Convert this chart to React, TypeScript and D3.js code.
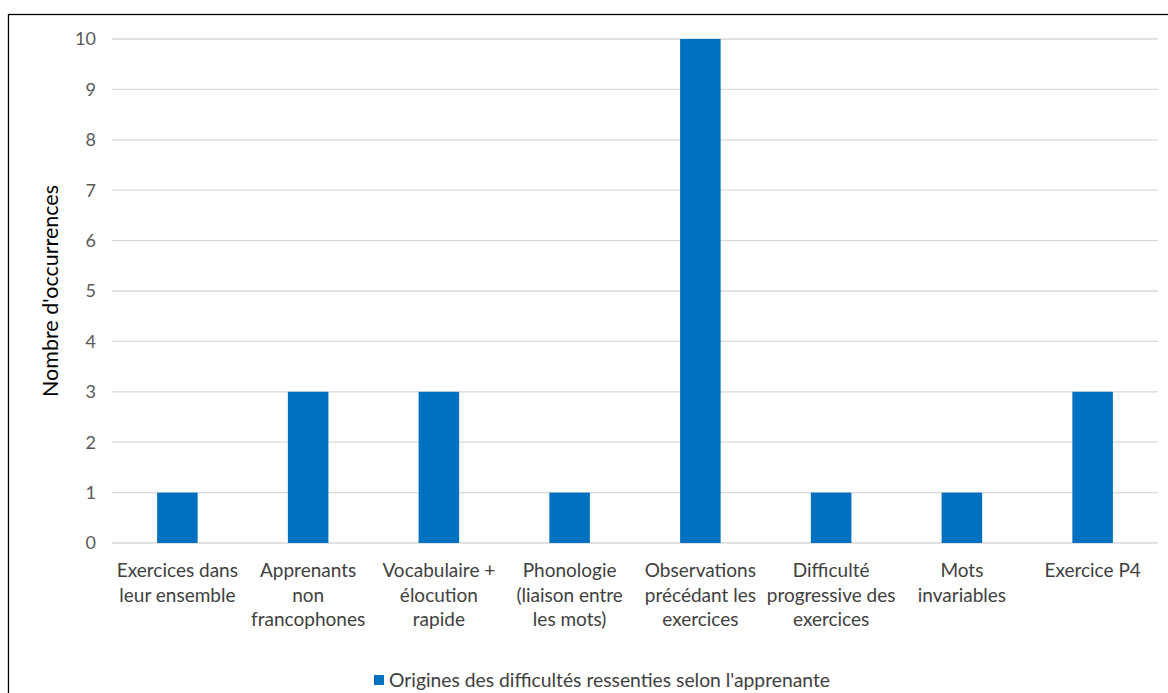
import React, { useEffect, useRef } from 'react';
import * as d3 from 'd3';

const categories: string[] = [
  'Exercices dans\nleur ensemble',
  'Apprenants\nnon\nfrancophones',
  'Vocabulaire +\nélocution\nrapide',
  'Phonologie\n(liaison entre\nles mots)',
  'Observations\nprécédant les\nexercices',
  'Difficulté\nprogressive des\nexercices',
  'Mots\ninvariables',
  'Exercice P4',
];
const occurrences: number[] = [1, 3, 3, 1, 10, 1, 1, 3];
const yTicks: number[] = [0, 1, 2, 3, 4, 5, 6, 7, 8, 9, 10];
const seriesName = "Origines des difficultés ressenties selon l'apprenante";
const yTitle = "Nombre d'occurrences";

const App: React.FC = () => {
  const svgRef = useRef<SVGSVGElement | null>(null);

  useEffect(() => {
    const svg = d3.select(svgRef.current);
    svg.selectAll('*').remove();

    const W = 1168;
    const H = 693;
    const font = 'Lato, Carlito, "Open Sans", sans-serif';
    const plot = { left: 112, right: 1158, top: 39, bottom: 543 };

    svg.attr('width', W).attr('height', H).style('font-family', font);

    // frame
    svg
      .append('rect')
      .attr('x', 8.5)
      .attr('y', 14.5)
      .attr('width', W + 20)
      .attr('height', H + 20)
      .attr('fill', '#fff')
      .attr('stroke', '#000')
      .attr('stroke-width', 1.3);

    const x = d3
      .scaleBand<number>()
      .domain(d3.range(categories.length))
      .range([plot.left, plot.right])
      .paddingInner(0.69)
      .paddingOuter(0.345);

    const y = d3
      .scaleLinear()
      .domain([0, 10])
      .range([plot.bottom, plot.top]);

    // gridlines
    svg
      .append('g')
      .selectAll('line')
      .data(yTicks)
      .join('line')
      .attr('x1', plot.left)
      .attr('x2', plot.right)
      .attr('y1', d => y(d))
      .attr('y2', d => y(d))
      .attr('stroke', '#d9d9d9')
      .attr('stroke-width', 1.3);

    // y labels
    svg
      .append('g')
      .selectAll('text')
      .data(yTicks)
      .join('text')
      .attr('x', 96)
      .attr('y', d => y(d))
      .attr('dy', '0.35em')
      .attr('text-anchor', 'end')
      .attr('fill', '#595959')
      .attr('font-size', 18)
      .text(d => d);

    // bars
    svg
      .append('g')
      .selectAll('rect')
      .data(occurrences)
      .join('rect')
      .attr('x', (_, i) => x(i) as number)
      .attr('width', x.bandwidth())
      .attr('y', d => y(d))
      .attr('height', d => y(0) - y(d))
      .attr('fill', '#0070c0');

    // x labels
    const xl = svg
      .append('g')
      .selectAll('text')
      .data(categories)
      .join('text')
      .attr('x', (_, i) => (x(i) as number) + x.bandwidth() / 2)
      .attr('y', 577)
      .attr('text-anchor', 'middle')
      .attr('fill', '#404040')
      .attr('font-size', 19);
    xl.each(function (d) {
      const t = d3.select(this);
      const cx = t.attr('x');
      d.split('\n').forEach((line, k) => {
        t.append('tspan').attr('x', cx).attr('y', 577 + k * 24.5).text(line);
      });
    });

    // y title
    svg
      .append('text')
      .attr('transform', `translate(58,${(plot.top + plot.bottom) / 2}) rotate(-90)`)
      .attr('text-anchor', 'middle')
      .attr('fill', '#000')
      .attr('font-size', 21.5)
      .text(yTitle);

    // legend
    const lg = svg.append('g').attr('transform', 'translate(374,675)');
    lg.append('rect').attr('width', 10).attr('height', 10).attr('fill', '#0070c0');
    lg.append('text')
      .attr('x', 15)
      .attr('y', 11.5)
      .attr('fill', '#404040')
      .attr('font-size', 19.3)
      .text(seriesName);
  }, []);

  return <svg ref={svgRef} style={{ display: 'block', position: 'absolute', left: 0, top: 0 }} />;
};

export default App;
